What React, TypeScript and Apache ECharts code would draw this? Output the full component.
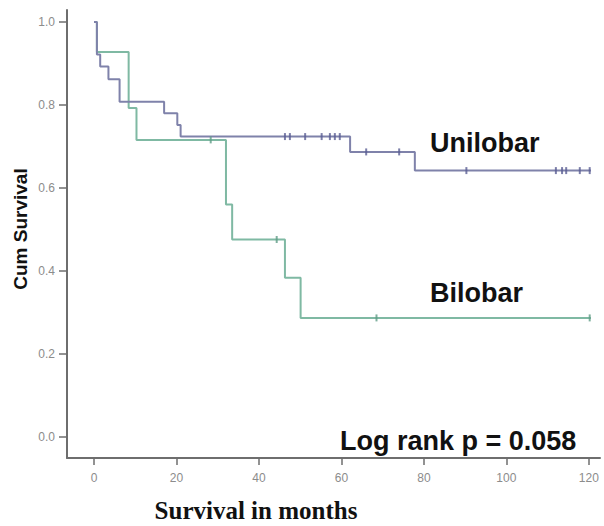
import React, { useEffect, useRef } from "react";
import * as echarts from "echarts";

const yTickValues = [0, 0.2, 0.4, 0.6, 0.8, 1.0];
const xTickValues = [0, 20, 40, 60, 80, 100, 120];

const unilobarMonths = [0, 0.7, 1.5, 3.5, 6.2, 17.0, 20.2, 21.0, 62.1, 77.8, 120.5];
const unilobarSurvival = [1.0, 0.922, 0.893, 0.862, 0.808, 0.780, 0.752, 0.724, 0.687, 0.642, 0.642];
const unilobarCensorMonths = [46.3, 47.5, 51.2, 55.2, 57.2, 58.4, 59.6, 66.0, 74.0, 90.3, 112.0, 113.5, 114.5, 117.8, 120.2];
const unilobarCensorSurvival = [0.724, 0.724, 0.724, 0.724, 0.724, 0.724, 0.724, 0.687, 0.687, 0.642, 0.642, 0.642, 0.642, 0.642, 0.642];

const bilobarMonths = [0, 0.7, 8.4, 10.3, 32.0, 33.5, 46.3, 50.1, 120.5];
const bilobarSurvival = [1.0, 0.928, 0.793, 0.716, 0.56, 0.476, 0.384, 0.287, 0.287];
const bilobarCensorMonths = [28.3, 44.3, 68.5, 120.2];
const bilobarCensorSurvival = [0.716, 0.476, 0.287, 0.287];

const seriesNames = ["Unilobar", "Bilobar"];
const pValueText = "Log rank p = 0.058";
const xTitle = "Survival in months";
const yTitle = "Cum Survival";

const zip = (a: number[], b: number[]) => a.map((v, i) => [v, b[i]]);

export default function App() {
  const ref = useRef<HTMLDivElement>(null);
  useEffect(() => {
    const chart = echarts.init(ref.current!, null, { renderer: "svg" });
    const axisColor = "#6e6e6e";
    const labelColor = "#8c8c8c";
    chart.setOption({
      animation: false,
      backgroundColor: "#ffffff",
      grid: { left: 67, right: 4, top: 10, bottom: 68, containLabel: false },
      xAxis: {
        type: "value",
        min: -6.55,
        max: 122.7,
        splitLine: { show: false },
        axisLine: { show: true, onZero: false, lineStyle: { color: axisColor, width: 2 } },
        axisTick: { show: true, customValues: xTickValues, length: 7, lineStyle: { color: axisColor, width: 1.5 } },
        axisLabel: {
          customValues: xTickValues,
          color: labelColor,
          fontSize: 12,
          fontFamily: "Liberation Sans, Arial, sans-serif",
          margin: 14,
        },
      },
      yAxis: {
        type: "value",
        min: -0.0506,
        max: 1.029,
        splitLine: { show: false },
        axisLine: { show: true, onZero: false, lineStyle: { color: axisColor, width: 2 } },
        axisTick: { show: true, customValues: yTickValues, length: 8, lineStyle: { color: axisColor, width: 1.5 } },
        axisLabel: {
          customValues: yTickValues,
          color: labelColor,
          fontSize: 12,
          fontFamily: "Liberation Sans, Arial, sans-serif",
          margin: 12,
          formatter: (v: number) => v.toFixed(1),
        },
      },
      series: [
        {
          name: seriesNames[0],
          type: "line",
          step: "end",
          symbol: "none",
          lineStyle: { color: "#7f82aa", width: 2 },
          data: zip(unilobarMonths, unilobarSurvival),
          z: 3,
        },
        {
          name: seriesNames[1],
          type: "line",
          step: "end",
          symbol: "none",
          lineStyle: { color: "#7fb9a3", width: 2 },
          data: zip(bilobarMonths, bilobarSurvival),
          z: 2,
        },
        {
          type: "scatter",
          symbol: "rect",
          symbolSize: [2, 7],
          itemStyle: { color: "#5a5e94" },
          data: zip(unilobarCensorMonths, unilobarCensorSurvival),
          z: 4,
        },
        {
          type: "scatter",
          symbol: "rect",
          symbolSize: [2, 7],
          itemStyle: { color: "#5f9c86" },
          data: zip(bilobarCensorMonths, bilobarCensorSurvival),
          z: 4,
        },
      ],
      graphic: [
        {
          type: "text",
          x: 20,
          y: 229,
          rotation: Math.PI / 2,
          style: {
            text: yTitle,
            fill: "#111",
            font: "bold 19px 'Liberation Sans', Arial, sans-serif",
            align: "center",
            verticalAlign: "middle",
          },
        },
        {
          type: "text",
          x: 256,
          y: 510,
          style: {
            text: xTitle,
            fill: "#111",
            font: "bold 25px 'Liberation Serif', 'Times New Roman', serif",
            align: "center",
            verticalAlign: "middle",
          },
        },
        {
          type: "text",
          x: 430,
          y: 143,
          style: {
            text: seriesNames[0],
            fill: "#111",
            font: "bold 27px 'Liberation Sans', Arial, sans-serif",
            align: "left",
            verticalAlign: "middle",
          },
        },
        {
          type: "text",
          x: 430,
          y: 293,
          style: {
            text: seriesNames[1],
            fill: "#111",
            font: "bold 27px 'Liberation Sans', Arial, sans-serif",
            align: "left",
            verticalAlign: "middle",
          },
        },
        {
          type: "text",
          x: 340,
          y: 441,
          style: {
            text: pValueText,
            fill: "#111",
            font: "bold 27px 'Liberation Sans', Arial, sans-serif",
            align: "left",
            verticalAlign: "middle",
          },
        },
      ],
    });
    return () => chart.dispose();
  }, []);
  return <div ref={ref} style={{ position: "fixed", left: 0, top: 0, width: 604, height: 526 }} />;
}
